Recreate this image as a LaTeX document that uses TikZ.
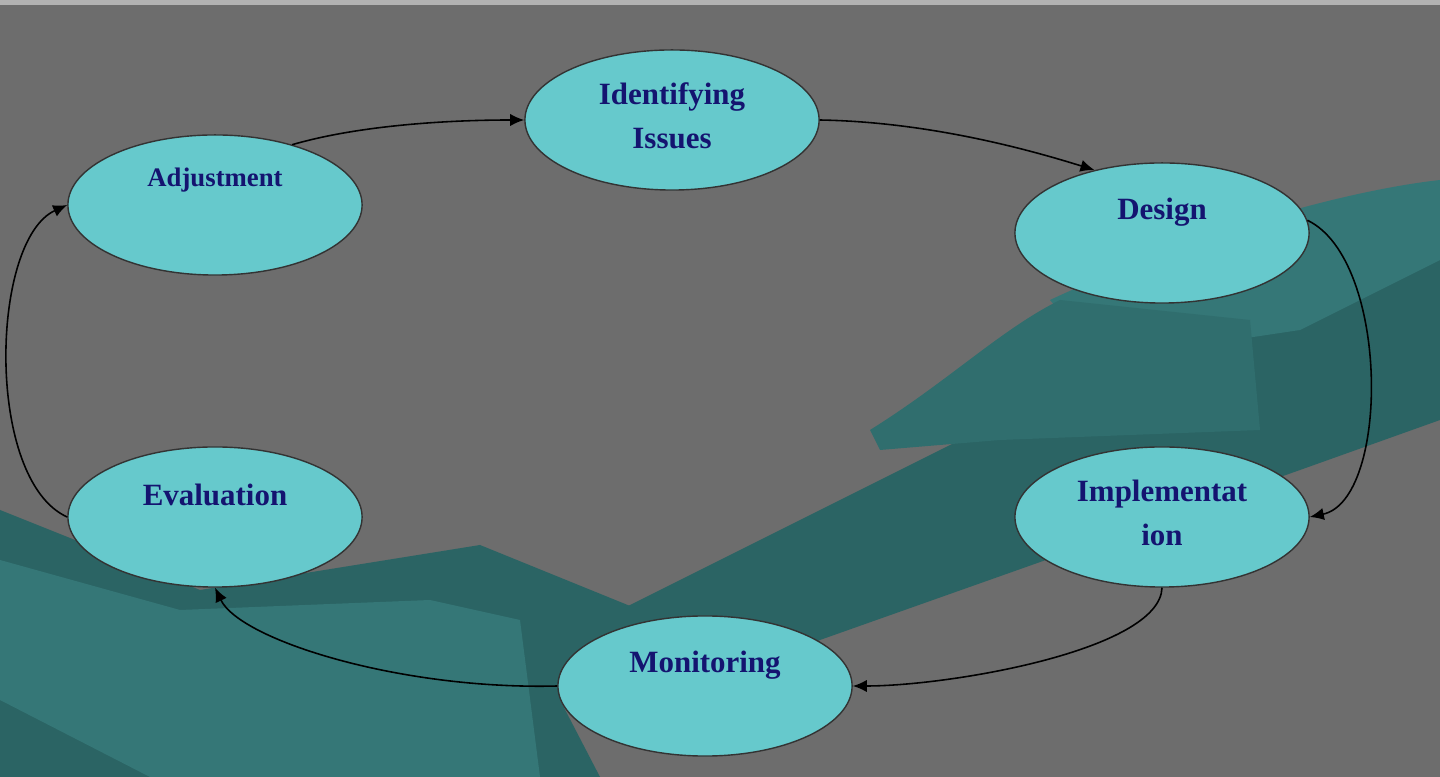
\documentclass[tikz,border=0pt]{standalone}
\usepackage{fontspec}
\setmainfont{Liberation Serif}
\usetikzlibrary{shapes.geometric,arrows.meta}
\definecolor{bg}{HTML}{6D6D6D}
\definecolor{armA}{HTML}{2B6464}
\definecolor{armB}{HTML}{357777}
\definecolor{armC}{HTML}{306E6E}
\definecolor{ellfill}{HTML}{66C9CC}
\definecolor{txt}{HTML}{141470}
\begin{document}
\begin{tikzpicture}[x=0.01cm,y=-0.01cm,
  st/.style={ellipse,draw=black!80,fill=ellfill,minimum width=2.94cm,minimum height=1.4cm,inner sep=0pt},
  lab/.style={text=txt,font=\bfseries\fontsize{8.8}{12.5}\selectfont,align=center},
  arr/.style={-{Latex[length=4pt,width=3.5pt]},black,line width=0.45pt}]
\useasboundingbox (0,0) rectangle (1440,777);
\fill[bg] (0,0) rectangle (1440,777);
\draw[gray!60,line width=2pt] (0,1) -- (1440,1);
% decorative arms / hands
\fill[armA] (560,640) -- (1000,420) -- (1440,250) -- (1440,420) -- (1300,470) -- (820,640) -- (700,700) -- cycle;
\fill[armB] (1050,300) .. controls (1200,230) and (1350,190) .. (1440,180) -- (1440,260) -- (1300,330) -- (1100,360) -- cycle;
\fill[armC] (870,430) .. controls (950,380) and (1000,330) .. (1060,300) -- (1250,320) -- (1260,430) -- (1000,440) -- (880,450) -- cycle;
\fill[armA] (0,510) -- (200,590) -- (480,545) -- (640,610) -- (560,700) -- (600,777) -- (0,777) -- cycle;
\fill[armB] (0,560) -- (180,610) -- (430,600) -- (520,620) -- (540,777) -- (150,777) -- (0,700) -- cycle;
% states
\node[st] (id) at (672,120) {};
\node[lab] at (672,116) {Identifying\\Issues};
\node[st] (adj) at (215,205) {};
\node[lab,font=\bfseries\fontsize{7.6}{10}\selectfont] at (215,180) {Adjustment};
\node[st] (des) at (1162,233) {};
\node[lab] at (1162,212) {Design};
\node[st] (imp) at (1162,517) {};
\node[lab] at (1162,513) {Implementat\\ion};
\node[st] (mon) at (705,686) {};
\node[lab] at (705,665) {Monitoring};
\node[st] (eva) at (215,517) {};
\node[lab] at (215,495) {Evaluation};
% arrows
\draw[arr] (adj.38) .. controls (360,125) and (450,120) .. (id.180);
\draw[arr] (id.0) .. controls (930,122) and (1030,150) .. (des.137);
\draw[arr] (des.5) .. controls (1390,260) and (1390,500) .. (imp.0);
\draw[arr] (imp.270) .. controls (1160,650) and (950,686) .. (mon.0);
\draw[arr] (mon.180) .. controls (400,690) and (240,640) .. (eva.270);
\draw[arr] (eva.180) .. controls (-15,480) and (-10,240) .. (adj.180);
\end{tikzpicture}
\end{document}
